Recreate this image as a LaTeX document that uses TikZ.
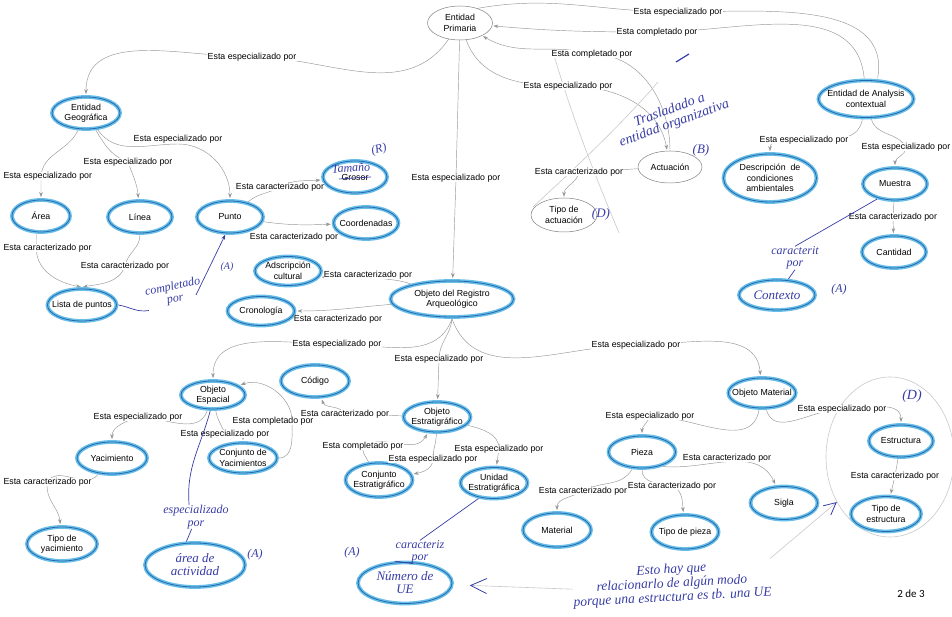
\documentclass[tikz,border=0pt]{standalone}
\usepackage{fontspec}
\setmainfont{Liberation Sans}
\newfontfamily\handfont{Liberation Serif}
\newfontfamily\pagefont{Carlito}
\usetikzlibrary{shapes,backgrounds,calc,arrows,arrows.meta,positioning}

\definecolor{linkgray}{RGB}{150,150,150}
\definecolor{hlcyan}{RGB}{105,190,232}
\definecolor{hlblue}{RGB}{35,105,175}
\definecolor{inkblue}{RGB}{55,60,165}
\definecolor{pencilgray}{RGB}{200,200,206}

\begin{document}
\begin{tikzpicture}[x=1pt, y=1pt, >={Stealth[length=5pt,width=3.6pt]}]

\tikzstyle{concept}=[ellipse, draw=gray, line width=0.5pt, fill=white, align=center, inner sep=0pt, minimum width=64pt, minimum height=32pt, font=\fontsize{8.8}{10.5}\selectfont]
\tikzstyle{marked}=[concept, draw=hlcyan, line width=3.8pt, postaction={draw=hlblue, line width=0.8pt}]
\tikzstyle{handmarked}=[marked, text=inkblue, font=\handfont\itshape\fontsize{13}{13}\selectfont]
\tikzstyle{lbl}=[fill=white, inner sep=0.3pt, font=\fontsize{8.8}{10.5}\selectfont]
\tikzstyle{link}=[draw=linkgray, line width=0.45pt, shorten >=1pt]
\tikzstyle{note}=[text=inkblue, align=center, inner sep=0pt, font=\handfont\itshape\fontsize{12}{12.5}\selectfont]
\tikzstyle{ink}=[draw=inkblue, line width=0.7pt]
\tikzstyle{pencil}=[draw=pencilgray, line width=0.6pt]

\useasboundingbox (0,0) rectangle (952,617);

% pencil loop round the structure group
\node(grp)[ellipse, pencil, minimum width=128pt, minimum height=160pt] at (890,160) {};

% top
\node(ep)[concept, minimum width=65pt, minimum height=34pt] at (460,594) {Entidad\\Primaria};
\node(eac)[marked, minimum width=94pt, minimum height=37pt, inner xsep=-5pt] at (866,518) {Entidad de Analysis\\contextual};
\node(actuacion)[concept] at (670,450) {Actuación};
\node(tipoact)[concept, minimum width=66pt, minimum height=34pt] at (564,402) {Tipo de\\actuación};
\node(desc)[marked, minimum width=93pt, minimum height=48pt] at (770,439) {Descripción\ \ de\\condiciones\\ambientales};
\node(muestra)[marked] at (895,433) {Muestra};
\node(cantidad)[marked] at (894,365) {Cantidad};
\node(contexto)[handmarked, minimum width=76pt, minimum height=30pt] at (777,322) {Contexto};

% top left
\node(eg)[marked, minimum width=68pt] at (86,504) {Entidad\\Geográfica};
\node(area)[marked, minimum width=58pt] at (41,401) {Área};
\node(linea)[marked] at (140,400) {Línea};
\node(punto)[marked, minimum width=66pt] at (230,400) {Punto};
\node(grosor)[marked] at (355,440) {Grosor};
\node(coord)[marked, inner xsep=-3.5pt] at (366,394) {Coordenadas};
\node(lista)[marked, minimum width=69pt, inner xsep=-5.5pt] at (82,312) {Lista de puntos};
\node(adsc)[marked, minimum width=66pt, minimum height=29pt] at (288,346) {Adscripción\\cultural};
\node(crono)[marked, minimum width=67pt, minimum height=29pt] at (261,306) {Cronología};

% centre
\node(ora)[marked, minimum width=123pt, minimum height=36pt] at (452,318) {Objeto del Registro\\Arqueológico};
\node(oesp)[marked, minimum height=28pt] at (213,222) {Objeto\\Espacial};
\node(codigo)[marked, minimum width=68pt] at (315,236) {Código};
\node(yac)[marked, minimum width=70pt] at (112,159) {Yacimiento};
\node(cyac)[marked, minimum width=68pt, minimum height=30pt] at (243,159) {Conjunto de\\Yacimientos};
\node(tyac)[marked, minimum width=70pt, minimum height=34pt] at (62,73) {Tipo de\\yacimiento};
\node(areaact)[handmarked, minimum width=100pt, minimum height=44pt] at (195,52) {área de\\actividad};
\node(oestr)[marked, inner xsep=-2pt, minimum height=30pt] at (437,200) {Objeto\\Estratigráfico};
\node(cestr)[marked, inner xsep=-2pt, minimum height=34pt] at (379,137) {Conjunto\\Estratigráfico};
\node(uestr)[marked, inner xsep=-2pt, minimum height=31pt] at (494,134) {Unidad\\Estratigráfica};
\node(nue)[handmarked, minimum width=94pt, minimum height=41pt] at (405,34) {Número de\\UE};

% bottom right
\node(omat)[marked, inner xsep=-6pt, minimum height=30pt] at (762,224) {Objeto Material};
\node(pieza)[marked, minimum width=67pt] at (642,165) {Pieza};
\node(material)[marked, minimum width=68pt, minimum height=34pt] at (557,87) {Material};
\node(tpieza)[marked, inner xsep=-2.5pt, minimum height=34pt] at (685,85) {Tipo de pieza};
\node(sigla)[marked, minimum width=67pt, minimum height=33pt] at (784,114) {Sigla};
\node(estructura)[marked] at (901,176) {Estructura};
\node(testr)[marked, minimum width=70pt, minimum height=35pt] at (886,103) {Tipo de\\estructura};

% link labels
\node(l1)[lbl] at (252,560) {Esta especializado por};
\node(l2)[lbl] at (456,439) {Esta especializado por};
\node(l3)[lbl] at (568,531) {Esta especializado por};
\node(l4)[lbl] at (592,563) {Esta completado por};
\node(l5)[lbl] at (678,605) {Esta especializado por};
\node(l6)[lbl] at (657,585) {Esta completado por};
\node(l7)[lbl] at (804,477) {Esta especializado por};
\node(l8)[lbl] at (906,470) {Esta especializado por};
\node(l9)[lbl] at (893,400) {Esta caracterizado por};
\node(l10)[lbl] at (579,445) {Esta caracterizado por};
\node(l11)[lbl, anchor=west] at (3,441) {Esta especializado por};
\node(l12)[lbl] at (128,455) {Esta especializado por};
\node(l13)[lbl] at (178,478) {Esta especializado por};
\node(l14)[lbl] at (280,430) {Esta caracterizado por};
\node(l15)[lbl] at (294,380) {Esta caracterizado por};
\node(l16)[lbl, anchor=west] at (3,369) {Esta caracterizado por};
\node(l17)[lbl] at (125,351) {Esta caracterizado por};
\node(l18)[lbl] at (368,342) {Esta caracterizado por};
\node(l19)[lbl] at (338,298) {Esta caracterizado por};
\node(l20)[lbl] at (337,273) {Esta especializado por};
\node(l21)[lbl] at (439,258) {Esta especializado por};
\node(l22)[lbl] at (636,272) {Esta especializado por};
\node(l23)[lbl] at (138,200) {Esta especializado por};
\node(l24)[lbl] at (225,183) {Esta especializado por};
\node(l25)[lbl] at (273,196) {Esta completado por};
\node(l26)[lbl, anchor=west] at (3,135) {Esta caracterizado por};
\node(l27)[lbl] at (345,203) {Esta caracterizado por};
\node(l28)[lbl] at (363,171) {Esta completado por};
\node(l29)[lbl] at (433,158) {Esta especializado por};
\node(l30)[lbl] at (499,168) {Esta especializado por};
\node(l31)[lbl] at (650,201) {Esta especializado por};
\node(l32)[lbl] at (842,208) {Esta especializado por};
\node(l33)[lbl] at (727,159) {Esta caracterizado por};
\node(l34)[lbl] at (583,126) {Esta caracterizado por};
\node(l35)[lbl] at (672,131) {Esta caracterizado por};
\node(l36)[lbl] at (895,141) {Esta caracterizado por};

% links
\begin{scope}[on background layer]
\draw[link,->] (ep) to[out=235,in=0] (l1.center) to[out=180,in=90] (eg);
\draw[link,->] (ep) -- (l2.center) -- (ora);
\draw[link,->] (ep) to[out=290,in=180] (l3.center) to[out=0,in=100] (actuacion);
\draw[link,->] (actuacion) to[out=90,in=0] (l4.center) to[out=165,in=-30] (ep);
\draw[link] (ep.40) to[out=10,in=180] (l5.center) to[out=0,in=80] (eac.60);
\draw[link,->] (eac.95) to[out=95,in=0] (l6.center) to[out=180,in=-5] (ep);
\draw[link,->] (eac) to[out=260,in=0] (l7.center) to[out=180,in=90] (desc);
\draw[link,->] (eac) to[out=-75,in=120] (l8.center) to[out=-90,in=90] (muestra);
\draw[link,->] (muestra) -- (l9.center) -- (cantidad);
\draw[link,->] (actuacion) -- (l10.center) to[out=-100,in=90] (tipoact);
\draw[link,->] (eg) to[out=245,in=85] (area.north |- l11.center) to[out=-90,in=90] (area);
\draw[link,->] (eg) to[out=-60,in=160] (l12.center) to[out=-70,in=95] (linea);
\draw[link,->] (eg) to[out=-55,in=180] ([yshift=-5pt]l13.center) to[out=0,in=90] (punto);
\draw[link,->] (punto) to[out=40,in=-150] (l14.center) to[out=30,in=185] (grosor);
\draw[link,->] (punto) to[out=-8,in=182] (coord);
\draw[link,->] (area.255) -- (area.255 |- l16.center) to[out=-90,in=170] (lista.north);
\draw[link,->] (linea) to[out=-90,in=80] (l17.center) to[out=-110,in=10] (lista.north);
\draw[link,->] (ora) to[out=160,in=-20] (l18.center) to[out=180,in=-10] (adsc);
\draw[link,->] (ora) to[out=185,in=0] (crono);
\draw[link,->] (ora.south) to[out=-110,in=0] (l20.center) to[out=180,in=90] (oesp);
\draw[link,->] (ora.south) to[out=-95,in=90] (l21.center) -- (oestr);
\draw[link,->] (ora.south) to[out=-70,in=180] (l22.center) to[out=0,in=95] (omat);
\draw[link,->] (oesp) to[out=-110,in=0] (l23.center) to[out=200,in=90] (yac);
\draw[link,->] (oesp) to[out=-80,in=110] (l24.center) to[out=-70,in=90] (cyac);
\draw[link,->] (cyac) to[out=0,in=-90] ([xshift=19pt]l25.center) to[out=90,in=20] (oesp);
\draw[link,->] (yac) to[out=-130,in=60] (l26.center) to[out=-100,in=95] (tyac);
\draw[link,->] (oestr) -- (l27.center) to[out=120,in=-70] (codigo);
\draw[link,->] (cestr) to[out=120,in=-100] (l28.center) to[out=30,in=-120] (oestr);
\draw[link,->] (oestr) to[out=-92,in=90] (l29.center) to[out=-90,in=10] (cestr);
\draw[link,->] (oestr) to[out=-15,in=90] (l30.center) -- (uestr);
\draw[link,->] (omat) to[out=-100,in=0] (l31.center) to[out=-110,in=90] (pieza);
\draw[link,->] (omat) to[out=-75,in=180] (l32.center) to[out=0,in=90] (estructura);
\draw[link,->] (pieza.-35) to[out=-5,in=115] (sigla);
\draw[link,->] (pieza) to[out=-120,in=30] (l34.center) to[out=210,in=90] (material);
\draw[link,->] (pieza) to[out=-90,in=170] (l35.center) to[out=-20,in=95] (tpieza);
\draw[link,->] (estructura) -- (l36.center) -- (testr);
% pencil cross over Actuacion
\draw[pencil] (553,565) .. controls (575,490) and (600,430) .. (619,384);
\draw[pencil] (658,535) .. controls (615,485) and (565,440) .. (533,410);
\end{scope}

% handwritten notes
\node(tam)[note, rotate=4] at (351,449) {Tamaño};
\draw[ink] ([xshift=-16pt,yshift=-2pt]grosor.center) -- ([xshift=16pt]grosor.center);
\node(rmark)[note, rotate=15] at (379,467) {(R)};
\node(hw1)[note, rotate=12] at (174,324) {completado\\por};
\node(amark1)[note, font=\handfont\itshape\fontsize{10}{10}\selectfont] at (227,350) {(A)};
\coordinate (cp1) at (196,322);
\draw[ink] (lista.east) to[out=-10,in=190] (hw1.south west);
\draw[ink,->] (cp1) -- (punto.255);
\node(moved)[note, rotate=20, font=\handfont\itshape\fontsize{14}{14}\selectfont] at (672,500) {Trasladado a\\entidad organizativa};
\node(bmark)[note, font=\handfont\itshape\fontsize{13}{13}\selectfont] at (701,467) {(B)};
\node(dmark1)[note, font=\handfont\itshape\fontsize{13}{13}\selectfont] at (601,403) {(D)};
\draw[ink, line width=1.2pt] (676,555) -- (689,563);
\node(hw4)[note] at (795,359) {caracterit\\por};
\draw[ink] (muestra.220) -- (hw4.north);
\draw[ink] (hw4.south) -- (contexto);
\node(amark2)[note] at (839,327) {(A)};
\node(hw5)[note] at (196,100) {especializado\\por};
\draw[ink] (oesp.260) to[out=-105,in=95] (hw5.120);
\draw[ink] (hw5.250) -- (areaact.110);
\node(amark3)[note] at (255,62) {(A)};
\node(hw6)[note] at (420,65) {caracteriz\\por};
\draw[ink] (uestr.225) -- (hw6.north);
\draw[ink] (hw6.240) -- (nue.115);
\node(amark4)[note] at (352,64) {(A)};
\node(memo)[note, rotate=3, font=\handfont\itshape\fontsize{13.5}{14}\selectfont] at (672,33) {Esto hay que\\relacionarlo de algún modo\\porque una estructura es tb. una UE};
\draw[pencil, shorten >=16pt, -{Straight Barb[length=16pt,width=15pt,color=inkblue,line width=0.8pt]}] (memo.west) -- (nue);
\draw[pencil, -{Straight Barb[length=12pt,width=12pt,color=inkblue,line width=0.8pt]}] (memo.north east) -- (grp);
\node(dmark2)[note, font=\handfont\itshape\fontsize{14}{14}\selectfont] at (912,221) {(D)};
\node(page)[font=\pagefont\fontsize{11}{11}\selectfont] at (911,23) {2 de 3};

\end{tikzpicture}
\end{document}
